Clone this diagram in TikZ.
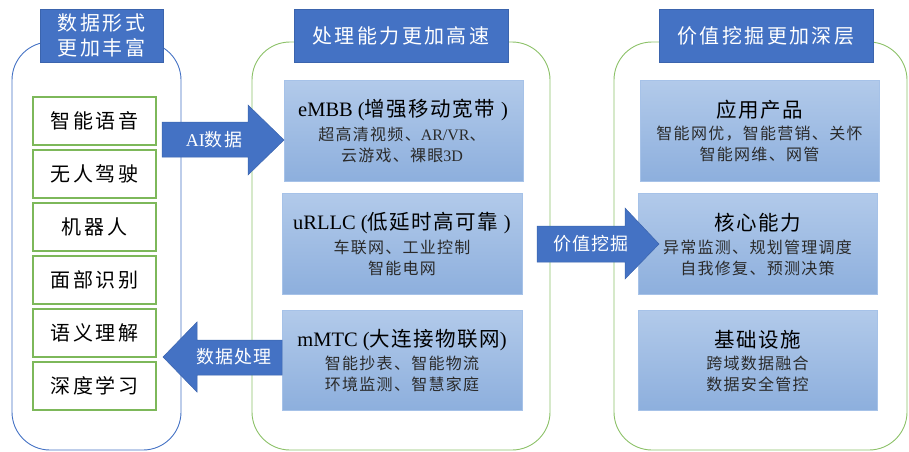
\documentclass[tikz,border=0pt]{standalone}
\usepackage{fontspec}
\setmainfont{Noto Sans CJK SC}
\newfontfamily\lat{Liberation Serif}
\definecolor{tblue}{HTML}{4472C4}
\definecolor{tborder}{HTML}{3B64AD}
\definecolor{pgreen}{HTML}{8CC168}
\definecolor{igreen}{HTML}{7DB85A}
\definecolor{btop}{HTML}{B2CAEA}
\definecolor{bbot}{HTML}{8DAFDD}
\definecolor{bedge}{HTML}{A6C2E8}
\definecolor{subtxt}{HTML}{2A2A2A}
\begin{document}
\begin{tikzpicture}[x=1pt,y=-1pt,
  panel/.style={draw, line width=0.9pt, rounded corners=38, inner sep=0pt},
  titlebox/.style={fill=tblue, draw=tborder, line width=0.8pt, text=white, inner sep=0pt, align=center, font=\fontsize{20}{25}\selectfont\addfontfeatures{LetterSpace=12}},
  itembox/.style={draw=igreen, line width=1.2pt, fill=white, minimum width=123, minimum height=48, inner sep=0pt, font=\fontsize{20}{24}\selectfont\addfontfeatures{LetterSpace=14}},
  bluebox/.style={top color=btop, bottom color=bbot, draw=bedge, line width=0.6pt, inner sep=0pt},
  head/.style={inner sep=0pt, font=\fontsize{20.5}{24}\selectfont\addfontfeatures{LetterSpace=7}},
  sub/.style={inner sep=0pt, align=center, text=subtxt, font=\fontsize{16}{20.5}\selectfont\addfontfeatures{LetterSpace=8}},
  barrow/.style={fill=tblue, draw=tborder, line width=0.5pt},
  atext/.style={text=white, inner sep=0pt, font=\fontsize{18}{22}\selectfont\addfontfeatures{LetterSpace=6}}
]
\useasboundingbox (0,0) rectangle (909,451);
% panels
\node[panel, draw=tblue, minimum width=169, minimum height=408] (p1) at (96.5,246) {};
\node[panel, draw=pgreen, minimum width=298, minimum height=408] (p2) at (401,246) {};
\node[panel, draw=pgreen, minimum width=293, minimum height=408] (p3) at (760.5,246) {};
% titles
\node[titlebox, minimum width=123, minimum height=53] (t1) at (101.5,35.5) {数据形式\\更加丰富};
\node[titlebox, minimum width=214, minimum height=53] (t2) at (401,35.5) {处理能力更加高速};
\node[titlebox, minimum width=214, minimum height=53] (t3) at (766,36) {价值挖掘更加深层};
% items
\node[itembox] (i1) at (94.5,121) {智能语音};
\node[itembox] (i2) at (94.5,174) {无人驾驶};
\node[itembox] (i3) at (94.5,227) {机器人};
\node[itembox] (i4) at (94.5,280) {面部识别};
\node[itembox] (i5) at (94.5,333) {语义理解};
\node[itembox] (i6) at (94.5,386) {深度学习};
% middle boxes
\node[bluebox, minimum width=239, minimum height=101] (m1) at (403.5,130.5) {};
\node[bluebox, minimum width=240, minimum height=101] (m2) at (402,243.5) {};
\node[bluebox, minimum width=240, minimum height=100] (m3) at (402,360) {};
\node[head] (m1h) at (403,110) {{\lat eMBB (}增强移动宽带 {\lat )}};
\node[sub] (m1s) at (402,145) {超高清视频、{\lat AR/VR}、\\云游戏、裸眼{\lat 3D}};
\node[head] (m2h) at (402,223) {{\lat uRLLC (}低延时高可靠 {\lat )}};
\node[sub] (m2s) at (402,258) {车联网、工业控制\\智能电网};
\node[head] (m3h) at (402,340) {{\lat mMTC (}大连接物联网{\lat )}};
\node[sub] (m3s) at (402,374) {智能抄表、智能物流\\环境监测、智慧家庭};
% right boxes
\node[bluebox, minimum width=239, minimum height=101] (r1) at (759.5,130.5) {};
\node[bluebox, minimum width=239, minimum height=101] (r2) at (757.5,243.5) {};
\node[bluebox, minimum width=239, minimum height=100] (r3) at (757.5,360) {};
\node[head] (r1h) at (759.5,110) {应用产品};
\node[sub] (r1s) at (759.5,144) {智能网优，智能营销、关怀\\智能网维、网管};
\node[head] (r2h) at (757.5,223) {核心能力};
\node[sub] (r2s) at (757.5,258) {异常监测、规划管理调度\\自我修复、预测决策};
\node[head] (r3h) at (757.5,340) {基础设施};
\node[sub] (r3s) at (757.5,374) {跨域数据融合\\数据安全管控};
% block arrows
\draw[barrow] (162,122) -- (248,122) -- (248,105) -- (284,140) -- (248,175) -- (248,157) -- (162,157) -- cycle;
\node[atext] (a1) at (214,140) {{\lat AI}数据};
\draw[barrow] (282,340) -- (197,340) -- (197,322) -- (163,357) -- (197,392) -- (197,375) -- (282,375) -- cycle;
\node[atext] (a2) at (234,357) {数据处理};
\draw[barrow] (537,226) -- (625,226) -- (625,208) -- (659,244) -- (625,279) -- (625,262) -- (537,262) -- cycle;
\node[atext] (a3) at (591,244) {价值挖掘};
\end{tikzpicture}
\end{document}
